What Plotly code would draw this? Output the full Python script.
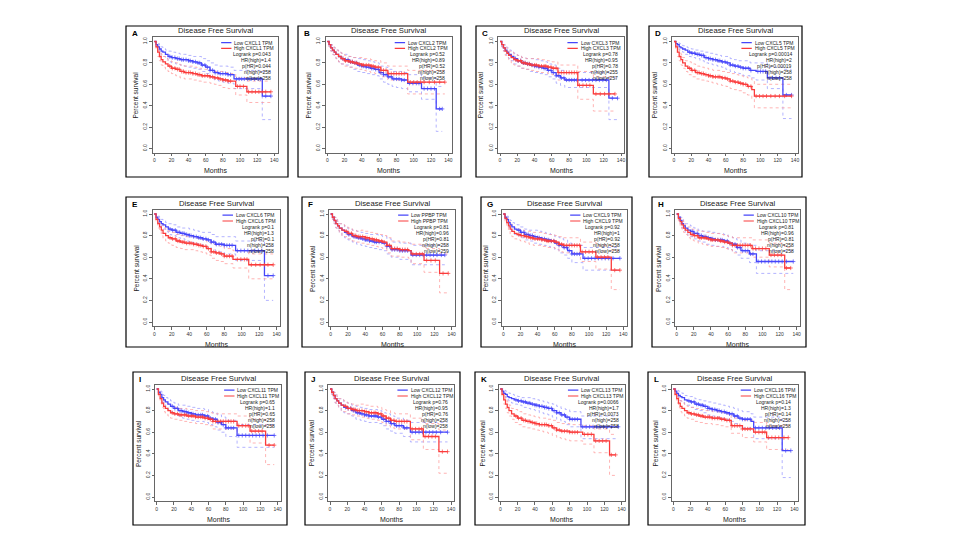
import plotly.graph_objects as go

# The page body has an 8 px default margin, so the figure is sized to fit
# inside the 960x540 window and screen coordinates are offset by 8 px.
SCREEN_W, SCREEN_H = 960, 540
OFF = 8
W, H = SCREEN_W - 2 * OFF, SCREEN_H - 2 * OFF
FONT = "Liberation Sans, Arial, sans-serif"

# ---------------- data ----------------
PANEL_LABELS = ["A", "B", "C", "D", "E", "F", "G", "H", "I", "J", "K", "L"]
GENES = ["CXCL1", "CXCL2", "CXCL3", "CXCL5", "CXCL6", "PPBP",
         "CXCL9", "CXCL10", "CXCL11", "CXCL12", "CXCL13", "CXCL16"]
LOGRANK_P = ["0.043", "0.52", "0.78", "0.00014", "0.1", "0.81",
             "0.92", "0.81", "0.65", "0.76", "0.0066", "0.14"]
HR_HIGH = ["1.4", "0.89", "0.95", "2", "1.3", "0.96",
           "1", "0.96", "1.1", "0.95", "1.7", "1.3"]
P_HR = ["0.044", "0.52", "0.78", "0.00019", "0.1", "0.81",
        "0.92", "0.81", "0.65", "0.76", "0.0073", "0.14"]
N_HIGH = [258, 258, 255, 258, 258, 258, 258, 258, 258, 258, 258, 258]
N_LOW = [258, 258, 257, 258, 258, 259, 258, 258, 258, 258, 258, 258]

X_TICKS = [0, 20, 40, 60, 80, 100, 120, 140]
Y_TICKS = [0.0, 0.2, 0.4, 0.6, 0.8, 1.0]
Y_TICKTEXT = ["0.0", "0.2", "0.4", "0.6", "0.8", "1.0"]

# Low-expression group: step times (months), survival, upper / lower 95% CI
LOW_T = [
    [0, 2, 4, 6, 8, 10, 13, 16, 20, 25, 30, 35, 40, 45, 50, 55, 60, 65, 70, 75, 80, 86, 93, 126, 136],
    [0, 2, 4, 6, 8, 10, 13, 16, 20, 25, 30, 35, 40, 45, 50, 55, 60, 65, 70, 75, 80, 86, 93, 109, 126, 133],
    [0, 2, 4, 6, 8, 10, 13, 16, 20, 25, 30, 35, 40, 45, 50, 55, 60, 65, 70, 75, 126, 136],
    [0, 2, 4, 6, 8, 10, 13, 16, 20, 25, 30, 35, 40, 45, 50, 55, 60, 65, 70, 75, 80, 88, 95, 108, 126, 136],
    [0, 2, 4, 6, 8, 10, 13, 16, 20, 25, 30, 35, 40, 45, 50, 55, 60, 65, 70, 80, 93, 126, 136],
    [0, 2, 4, 6, 8, 10, 13, 16, 20, 25, 30, 35, 40, 45, 50, 55, 60, 65, 70, 80, 93, 132],
    [0, 2, 4, 6, 8, 10, 13, 16, 20, 25, 30, 35, 40, 45, 50, 55, 60, 65, 70, 75, 80, 93, 136],
    [0, 2, 4, 6, 8, 10, 13, 16, 20, 25, 30, 35, 40, 45, 50, 55, 60, 65, 70, 75, 85, 93, 136],
    [0, 2, 4, 6, 8, 10, 13, 16, 20, 25, 30, 35, 40, 45, 50, 55, 60, 65, 70, 75, 80, 93, 136],
    [0, 2, 4, 6, 8, 10, 13, 16, 20, 25, 30, 35, 40, 45, 50, 55, 60, 65, 70, 75, 85, 93, 136],
    [0, 2, 4, 6, 8, 10, 13, 16, 20, 25, 30, 35, 40, 45, 50, 55, 60, 65, 70, 75, 80, 93, 136],
    [0, 2, 4, 6, 8, 10, 13, 16, 20, 25, 30, 35, 40, 45, 50, 55, 60, 65, 70, 75, 80, 90, 93, 126, 136],
]
LOW_S = [
    [1.0, 0.97, 0.95, 0.93, 0.91, 0.90, 0.88, 0.86, 0.85, 0.84, 0.83, 0.83, 0.82, 0.81, 0.80, 0.78, 0.76, 0.73, 0.71, 0.70, 0.70, 0.69, 0.65, 0.49, 0.49],
    [1.0, 0.97, 0.94, 0.92, 0.90, 0.88, 0.86, 0.84, 0.83, 0.81, 0.80, 0.78, 0.77, 0.76, 0.75, 0.74, 0.71, 0.69, 0.67, 0.65, 0.65, 0.64, 0.61, 0.56, 0.37, 0.37],
    [1.0, 0.97, 0.94, 0.92, 0.90, 0.88, 0.86, 0.84, 0.82, 0.80, 0.79, 0.78, 0.77, 0.76, 0.75, 0.73, 0.71, 0.68, 0.66, 0.64, 0.47, 0.47],
    [1.0, 0.98, 0.97, 0.95, 0.94, 0.93, 0.92, 0.90, 0.89, 0.88, 0.87, 0.85, 0.84, 0.83, 0.82, 0.81, 0.80, 0.78, 0.77, 0.76, 0.75, 0.73, 0.72, 0.66, 0.50, 0.50],
    [1.0, 0.97, 0.95, 0.93, 0.91, 0.90, 0.88, 0.86, 0.85, 0.83, 0.82, 0.81, 0.80, 0.79, 0.78, 0.77, 0.76, 0.74, 0.72, 0.71, 0.66, 0.43, 0.43],
    [1.0, 0.97, 0.94, 0.91, 0.89, 0.87, 0.85, 0.83, 0.81, 0.79, 0.78, 0.77, 0.76, 0.75, 0.74, 0.74, 0.73, 0.70, 0.67, 0.66, 0.62, 0.62],
    [1.0, 0.97, 0.95, 0.92, 0.90, 0.88, 0.86, 0.85, 0.83, 0.81, 0.80, 0.79, 0.78, 0.77, 0.76, 0.75, 0.73, 0.71, 0.69, 0.66, 0.63, 0.59, 0.59],
    [1.0, 0.97, 0.94, 0.91, 0.89, 0.87, 0.85, 0.84, 0.82, 0.80, 0.79, 0.78, 0.77, 0.76, 0.76, 0.75, 0.73, 0.72, 0.69, 0.66, 0.63, 0.56, 0.56],
    [1.0, 0.97, 0.95, 0.92, 0.90, 0.88, 0.86, 0.84, 0.82, 0.80, 0.79, 0.78, 0.77, 0.76, 0.76, 0.75, 0.73, 0.72, 0.69, 0.67, 0.64, 0.57, 0.57],
    [1.0, 0.97, 0.94, 0.91, 0.89, 0.87, 0.85, 0.83, 0.82, 0.80, 0.78, 0.77, 0.76, 0.75, 0.75, 0.74, 0.72, 0.70, 0.68, 0.66, 0.64, 0.60, 0.60],
    [1.0, 0.98, 0.96, 0.95, 0.93, 0.92, 0.91, 0.90, 0.89, 0.88, 0.87, 0.86, 0.85, 0.84, 0.83, 0.82, 0.80, 0.78, 0.76, 0.74, 0.72, 0.65, 0.65],
    [1.0, 0.98, 0.96, 0.94, 0.93, 0.92, 0.90, 0.89, 0.88, 0.86, 0.85, 0.84, 0.82, 0.81, 0.80, 0.79, 0.78, 0.77, 0.75, 0.73, 0.72, 0.70, 0.64, 0.43, 0.43],
]
LOW_U = [
    [1.0, 0.99, 0.98, 0.96, 0.95, 0.94, 0.92, 0.91, 0.90, 0.89, 0.88, 0.88, 0.87, 0.86, 0.86, 0.84, 0.82, 0.80, 0.78, 0.77, 0.77, 0.76, 0.73, 0.72, 0.72],
    [1.0, 0.99, 0.97, 0.96, 0.94, 0.92, 0.90, 0.89, 0.88, 0.86, 0.85, 0.84, 0.83, 0.82, 0.81, 0.80, 0.77, 0.76, 0.74, 0.72, 0.72, 0.71, 0.69, 0.66, 0.58, 0.58],
    [1.0, 0.99, 0.97, 0.96, 0.94, 0.92, 0.90, 0.89, 0.87, 0.85, 0.84, 0.84, 0.83, 0.82, 0.81, 0.79, 0.78, 0.75, 0.73, 0.71, 0.66, 0.66],
    [1.0, 1.0, 0.99, 0.98, 0.97, 0.96, 0.95, 0.94, 0.93, 0.92, 0.91, 0.90, 0.89, 0.88, 0.87, 0.86, 0.86, 0.84, 0.83, 0.82, 0.82, 0.80, 0.80, 0.76, 0.74, 0.74],
    [1.0, 0.99, 0.98, 0.96, 0.95, 0.94, 0.92, 0.91, 0.90, 0.88, 0.87, 0.87, 0.86, 0.85, 0.84, 0.83, 0.83, 0.81, 0.79, 0.79, 0.75, 0.70, 0.70],
    [1.0, 0.99, 0.97, 0.95, 0.93, 0.91, 0.90, 0.88, 0.86, 0.85, 0.84, 0.83, 0.82, 0.81, 0.81, 0.80, 0.79, 0.77, 0.74, 0.73, 0.71, 0.71],
    [1.0, 0.99, 0.98, 0.96, 0.94, 0.92, 0.91, 0.90, 0.88, 0.86, 0.85, 0.85, 0.84, 0.83, 0.82, 0.81, 0.79, 0.78, 0.76, 0.73, 0.71, 0.69, 0.69],
    [1.0, 0.99, 0.97, 0.95, 0.93, 0.91, 0.90, 0.89, 0.87, 0.85, 0.84, 0.84, 0.83, 0.82, 0.82, 0.81, 0.79, 0.78, 0.76, 0.73, 0.71, 0.66, 0.66],
    [1.0, 0.99, 0.98, 0.96, 0.94, 0.92, 0.91, 0.89, 0.87, 0.85, 0.85, 0.84, 0.83, 0.82, 0.82, 0.81, 0.79, 0.78, 0.76, 0.74, 0.71, 0.67, 0.67],
    [1.0, 0.99, 0.97, 0.95, 0.93, 0.91, 0.90, 0.88, 0.87, 0.85, 0.84, 0.83, 0.82, 0.81, 0.81, 0.80, 0.78, 0.77, 0.75, 0.73, 0.71, 0.69, 0.69],
    [1.0, 1.0, 0.99, 0.98, 0.97, 0.96, 0.95, 0.94, 0.93, 0.92, 0.92, 0.91, 0.90, 0.89, 0.88, 0.87, 0.86, 0.84, 0.82, 0.81, 0.79, 0.75, 0.75],
    [1.0, 1.0, 0.99, 0.98, 0.97, 0.96, 0.94, 0.93, 0.93, 0.91, 0.90, 0.89, 0.88, 0.87, 0.86, 0.85, 0.84, 0.83, 0.82, 0.80, 0.79, 0.77, 0.74, 0.70, 0.70],
]
LOW_L = [
    [1.0, 0.95, 0.92, 0.90, 0.87, 0.86, 0.84, 0.81, 0.80, 0.79, 0.78, 0.77, 0.76, 0.75, 0.74, 0.72, 0.70, 0.67, 0.64, 0.63, 0.62, 0.61, 0.56, 0.27, 0.27],
    [1.0, 0.95, 0.91, 0.88, 0.86, 0.84, 0.81, 0.79, 0.78, 0.76, 0.74, 0.72, 0.71, 0.70, 0.69, 0.68, 0.65, 0.62, 0.60, 0.58, 0.57, 0.56, 0.53, 0.46, 0.16, 0.16],
    [1.0, 0.95, 0.91, 0.88, 0.86, 0.84, 0.82, 0.79, 0.77, 0.75, 0.74, 0.72, 0.71, 0.70, 0.69, 0.67, 0.65, 0.61, 0.59, 0.57, 0.27, 0.27],
    [1.0, 0.96, 0.95, 0.92, 0.91, 0.90, 0.88, 0.86, 0.85, 0.84, 0.82, 0.80, 0.79, 0.78, 0.77, 0.76, 0.74, 0.72, 0.71, 0.70, 0.68, 0.66, 0.64, 0.56, 0.28, 0.28],
    [1.0, 0.95, 0.92, 0.90, 0.87, 0.86, 0.84, 0.81, 0.80, 0.78, 0.77, 0.75, 0.74, 0.73, 0.72, 0.71, 0.69, 0.67, 0.65, 0.63, 0.57, 0.20, 0.20],
    [1.0, 0.95, 0.91, 0.87, 0.85, 0.83, 0.80, 0.78, 0.76, 0.74, 0.72, 0.71, 0.70, 0.69, 0.68, 0.67, 0.66, 0.63, 0.60, 0.58, 0.53, 0.53],
    [1.0, 0.95, 0.92, 0.88, 0.86, 0.84, 0.81, 0.80, 0.78, 0.76, 0.75, 0.73, 0.72, 0.71, 0.70, 0.69, 0.67, 0.64, 0.62, 0.59, 0.55, 0.48, 0.48],
    [1.0, 0.95, 0.91, 0.87, 0.85, 0.83, 0.80, 0.79, 0.77, 0.75, 0.74, 0.72, 0.71, 0.70, 0.70, 0.69, 0.67, 0.65, 0.62, 0.59, 0.55, 0.45, 0.45],
    [1.0, 0.95, 0.92, 0.88, 0.86, 0.84, 0.81, 0.79, 0.77, 0.75, 0.73, 0.72, 0.71, 0.70, 0.70, 0.69, 0.67, 0.65, 0.62, 0.60, 0.56, 0.46, 0.46],
    [1.0, 0.95, 0.91, 0.87, 0.85, 0.83, 0.80, 0.78, 0.77, 0.75, 0.72, 0.71, 0.70, 0.69, 0.69, 0.68, 0.66, 0.63, 0.61, 0.59, 0.56, 0.51, 0.51],
    [1.0, 0.96, 0.93, 0.92, 0.90, 0.88, 0.87, 0.86, 0.85, 0.83, 0.82, 0.81, 0.80, 0.78, 0.77, 0.76, 0.74, 0.72, 0.70, 0.67, 0.65, 0.54, 0.54],
    [1.0, 0.96, 0.93, 0.91, 0.89, 0.88, 0.86, 0.85, 0.83, 0.81, 0.80, 0.78, 0.76, 0.75, 0.74, 0.73, 0.72, 0.70, 0.68, 0.66, 0.64, 0.62, 0.54, 0.18, 0.18],
]

# High-expression group
HIGH_T = [
    [0, 2, 4, 6, 8, 10, 13, 16, 20, 25, 30, 35, 40, 45, 50, 55, 60, 65, 70, 75, 80, 86, 95, 108, 136],
    [0, 2, 4, 6, 8, 10, 13, 16, 20, 25, 30, 35, 40, 45, 50, 55, 62, 70, 93, 136],
    [0, 2, 4, 6, 8, 10, 13, 16, 20, 25, 30, 35, 40, 45, 50, 55, 60, 67, 90, 108, 133],
    [0, 2, 4, 6, 8, 10, 13, 16, 20, 25, 30, 35, 40, 45, 50, 55, 60, 65, 70, 75, 80, 85, 90, 93, 136],
    [0, 2, 4, 6, 8, 10, 13, 16, 20, 25, 30, 35, 40, 45, 50, 55, 60, 65, 70, 75, 80, 90, 108, 136],
    [0, 2, 4, 6, 8, 10, 13, 16, 20, 25, 30, 35, 40, 45, 50, 55, 60, 65, 70, 80, 90, 93, 108, 126, 136],
    [0, 2, 4, 6, 8, 10, 13, 16, 20, 25, 30, 35, 40, 45, 50, 55, 60, 65, 70, 90, 108, 126, 136],
    [0, 2, 4, 6, 8, 10, 13, 16, 20, 25, 30, 35, 40, 45, 50, 55, 60, 65, 88, 108, 126, 133],
    [0, 2, 4, 6, 8, 10, 13, 16, 20, 25, 30, 35, 40, 45, 50, 55, 60, 65, 75, 93, 108, 126, 136],
    [0, 2, 4, 6, 8, 10, 13, 16, 20, 25, 30, 35, 40, 45, 50, 55, 60, 65, 70, 75, 93, 108, 126, 136],
    [0, 2, 4, 6, 8, 10, 13, 16, 20, 25, 30, 35, 40, 45, 50, 55, 60, 65, 70, 75, 80, 95, 108, 126, 133],
    [0, 2, 4, 6, 8, 10, 13, 16, 20, 25, 30, 35, 40, 45, 50, 55, 60, 67, 80, 93, 108, 133],
]
HIGH_S = [
    [1.0, 0.95, 0.90, 0.86, 0.83, 0.81, 0.79, 0.77, 0.75, 0.74, 0.72, 0.71, 0.71, 0.70, 0.69, 0.68, 0.68, 0.67, 0.66, 0.65, 0.64, 0.63, 0.58, 0.53, 0.53],
    [1.0, 0.97, 0.94, 0.92, 0.90, 0.88, 0.86, 0.84, 0.82, 0.81, 0.80, 0.79, 0.78, 0.78, 0.77, 0.76, 0.73, 0.70, 0.62, 0.62],
    [1.0, 0.97, 0.94, 0.91, 0.89, 0.87, 0.85, 0.83, 0.82, 0.80, 0.79, 0.78, 0.78, 0.77, 0.77, 0.76, 0.75, 0.71, 0.59, 0.51, 0.51],
    [1.0, 0.95, 0.90, 0.86, 0.83, 0.80, 0.77, 0.75, 0.73, 0.71, 0.70, 0.69, 0.68, 0.67, 0.67, 0.66, 0.65, 0.63, 0.62, 0.61, 0.60, 0.58, 0.55, 0.49, 0.49],
    [1.0, 0.95, 0.91, 0.88, 0.85, 0.82, 0.80, 0.78, 0.77, 0.75, 0.74, 0.73, 0.73, 0.72, 0.71, 0.70, 0.68, 0.65, 0.64, 0.63, 0.61, 0.58, 0.53, 0.53],
    [1.0, 0.97, 0.94, 0.91, 0.89, 0.87, 0.85, 0.84, 0.82, 0.80, 0.79, 0.79, 0.78, 0.77, 0.76, 0.75, 0.74, 0.71, 0.68, 0.67, 0.66, 0.63, 0.57, 0.45, 0.45],
    [1.0, 0.96, 0.92, 0.89, 0.86, 0.84, 0.82, 0.81, 0.80, 0.79, 0.78, 0.77, 0.77, 0.76, 0.75, 0.75, 0.74, 0.72, 0.71, 0.65, 0.60, 0.48, 0.48],
    [1.0, 0.96, 0.93, 0.90, 0.87, 0.85, 0.83, 0.81, 0.80, 0.78, 0.78, 0.77, 0.76, 0.76, 0.75, 0.74, 0.73, 0.71, 0.68, 0.62, 0.50, 0.50],
    [1.0, 0.95, 0.91, 0.87, 0.84, 0.82, 0.80, 0.78, 0.77, 0.76, 0.76, 0.75, 0.75, 0.74, 0.74, 0.73, 0.72, 0.70, 0.70, 0.66, 0.61, 0.48, 0.48],
    [1.0, 0.97, 0.94, 0.91, 0.89, 0.87, 0.85, 0.84, 0.82, 0.81, 0.80, 0.80, 0.79, 0.78, 0.78, 0.77, 0.75, 0.73, 0.71, 0.70, 0.63, 0.56, 0.42, 0.42],
    [1.0, 0.95, 0.90, 0.86, 0.83, 0.80, 0.77, 0.75, 0.73, 0.71, 0.70, 0.69, 0.68, 0.67, 0.67, 0.66, 0.64, 0.62, 0.61, 0.61, 0.60, 0.58, 0.52, 0.39, 0.39],
    [1.0, 0.95, 0.91, 0.87, 0.84, 0.82, 0.80, 0.78, 0.77, 0.76, 0.75, 0.74, 0.74, 0.73, 0.73, 0.72, 0.71, 0.66, 0.63, 0.60, 0.55, 0.55],
]
HIGH_U = [
    [1.0, 0.98, 0.94, 0.91, 0.88, 0.86, 0.84, 0.82, 0.81, 0.80, 0.78, 0.77, 0.77, 0.76, 0.75, 0.74, 0.74, 0.73, 0.72, 0.72, 0.71, 0.70, 0.66, 0.63, 0.63],
    [1.0, 0.99, 0.97, 0.96, 0.94, 0.92, 0.90, 0.89, 0.87, 0.86, 0.85, 0.85, 0.84, 0.84, 0.83, 0.82, 0.80, 0.77, 0.73, 0.73],
    [1.0, 0.99, 0.97, 0.95, 0.93, 0.91, 0.90, 0.88, 0.87, 0.85, 0.84, 0.84, 0.84, 0.83, 0.83, 0.82, 0.81, 0.78, 0.72, 0.67, 0.67],
    [1.0, 0.98, 0.94, 0.91, 0.88, 0.85, 0.82, 0.81, 0.79, 0.77, 0.76, 0.75, 0.74, 0.73, 0.73, 0.72, 0.71, 0.70, 0.69, 0.68, 0.67, 0.66, 0.64, 0.60, 0.60],
    [1.0, 0.98, 0.95, 0.92, 0.90, 0.87, 0.85, 0.84, 0.83, 0.81, 0.80, 0.79, 0.79, 0.78, 0.77, 0.76, 0.74, 0.72, 0.71, 0.70, 0.68, 0.66, 0.63, 0.63],
    [1.0, 0.99, 0.97, 0.95, 0.93, 0.91, 0.90, 0.89, 0.87, 0.85, 0.84, 0.85, 0.84, 0.83, 0.82, 0.81, 0.80, 0.78, 0.75, 0.74, 0.73, 0.72, 0.68, 0.63, 0.63],
    [1.0, 0.99, 0.96, 0.93, 0.91, 0.89, 0.87, 0.86, 0.85, 0.84, 0.84, 0.83, 0.83, 0.82, 0.81, 0.81, 0.80, 0.79, 0.78, 0.74, 0.71, 0.66, 0.66],
    [1.0, 0.99, 0.96, 0.94, 0.91, 0.89, 0.88, 0.86, 0.85, 0.84, 0.84, 0.83, 0.82, 0.82, 0.81, 0.80, 0.79, 0.78, 0.76, 0.73, 0.69, 0.69],
    [1.0, 0.98, 0.95, 0.92, 0.89, 0.87, 0.85, 0.84, 0.83, 0.82, 0.82, 0.81, 0.81, 0.80, 0.80, 0.79, 0.78, 0.77, 0.77, 0.75, 0.72, 0.66, 0.66],
    [1.0, 0.99, 0.97, 0.95, 0.93, 0.91, 0.90, 0.89, 0.87, 0.86, 0.85, 0.86, 0.85, 0.84, 0.84, 0.83, 0.81, 0.80, 0.78, 0.77, 0.73, 0.68, 0.62, 0.62],
    [1.0, 0.98, 0.94, 0.91, 0.88, 0.85, 0.82, 0.81, 0.79, 0.77, 0.76, 0.75, 0.74, 0.73, 0.73, 0.72, 0.71, 0.69, 0.68, 0.68, 0.67, 0.66, 0.63, 0.58, 0.58],
    [1.0, 0.98, 0.95, 0.92, 0.89, 0.87, 0.85, 0.84, 0.83, 0.82, 0.81, 0.80, 0.80, 0.79, 0.79, 0.78, 0.77, 0.73, 0.71, 0.69, 0.66, 0.66],
]
HIGH_L = [
    [1.0, 0.92, 0.86, 0.82, 0.78, 0.76, 0.74, 0.72, 0.70, 0.68, 0.66, 0.65, 0.65, 0.64, 0.63, 0.62, 0.62, 0.61, 0.60, 0.59, 0.57, 0.56, 0.50, 0.43, 0.43],
    [1.0, 0.95, 0.91, 0.88, 0.86, 0.84, 0.81, 0.79, 0.77, 0.76, 0.75, 0.74, 0.73, 0.72, 0.71, 0.70, 0.67, 0.64, 0.51, 0.51],
    [1.0, 0.95, 0.91, 0.87, 0.85, 0.83, 0.80, 0.78, 0.77, 0.75, 0.74, 0.73, 0.72, 0.71, 0.71, 0.70, 0.69, 0.64, 0.46, 0.35, 0.35],
    [1.0, 0.92, 0.86, 0.82, 0.78, 0.75, 0.72, 0.69, 0.67, 0.65, 0.64, 0.63, 0.62, 0.61, 0.60, 0.59, 0.58, 0.56, 0.55, 0.54, 0.52, 0.50, 0.46, 0.38, 0.38],
    [1.0, 0.92, 0.87, 0.84, 0.80, 0.77, 0.75, 0.73, 0.71, 0.69, 0.68, 0.67, 0.67, 0.66, 0.65, 0.64, 0.62, 0.59, 0.57, 0.56, 0.54, 0.50, 0.40, 0.40],
    [1.0, 0.95, 0.91, 0.87, 0.85, 0.83, 0.80, 0.79, 0.77, 0.75, 0.74, 0.73, 0.72, 0.71, 0.70, 0.69, 0.68, 0.64, 0.61, 0.60, 0.59, 0.54, 0.46, 0.27, 0.27],
    [1.0, 0.93, 0.88, 0.85, 0.81, 0.79, 0.77, 0.76, 0.75, 0.74, 0.72, 0.71, 0.71, 0.70, 0.69, 0.69, 0.68, 0.65, 0.64, 0.56, 0.49, 0.30, 0.30],
    [1.0, 0.93, 0.89, 0.86, 0.83, 0.81, 0.78, 0.76, 0.75, 0.73, 0.72, 0.71, 0.70, 0.70, 0.69, 0.68, 0.67, 0.64, 0.60, 0.51, 0.30, 0.30],
    [1.0, 0.92, 0.87, 0.83, 0.79, 0.77, 0.75, 0.73, 0.72, 0.71, 0.70, 0.69, 0.69, 0.68, 0.68, 0.67, 0.66, 0.63, 0.63, 0.57, 0.50, 0.30, 0.30],
    [1.0, 0.95, 0.91, 0.87, 0.85, 0.83, 0.80, 0.79, 0.77, 0.76, 0.75, 0.74, 0.73, 0.72, 0.72, 0.71, 0.69, 0.66, 0.64, 0.63, 0.53, 0.44, 0.22, 0.22],
    [1.0, 0.92, 0.86, 0.82, 0.78, 0.75, 0.72, 0.69, 0.67, 0.65, 0.64, 0.63, 0.62, 0.61, 0.60, 0.59, 0.57, 0.55, 0.54, 0.53, 0.52, 0.49, 0.41, 0.20, 0.20],
    [1.0, 0.92, 0.87, 0.83, 0.79, 0.77, 0.75, 0.73, 0.72, 0.70, 0.69, 0.68, 0.68, 0.67, 0.67, 0.66, 0.65, 0.59, 0.55, 0.51, 0.44, 0.44],
]

# censoring times (months) shown as "+" marks
CENSOR_MID = [18, 21, 24, 27, 29, 32, 34, 37, 40, 42, 45, 48, 51, 53, 56,
              59, 62, 65, 68, 71, 74, 77, 80, 83, 86, 89]
LOW_CENS_TAIL = [
    [96, 99, 102, 105, 109, 113, 117, 121, 124, 130, 136],
    [95, 99, 103, 106, 112, 116, 120, 124, 130, 133],
    [95, 99, 103, 107, 111, 115, 119, 123, 130, 136],
    [97, 100, 103, 106, 110, 114, 118, 122, 130, 136],
    [95, 99, 103, 107, 111, 115, 119, 123, 130, 136],
    [95, 99, 103, 107, 111, 115, 119, 123, 128, 132],
    [95, 99, 103, 107, 111, 115, 119, 123, 128, 136],
    [95, 99, 103, 107, 111, 115, 119, 123, 128, 136],
    [95, 99, 103, 107, 111, 115, 119, 123, 128, 136],
    [95, 99, 103, 107, 111, 115, 119, 123, 128, 136],
    [95, 99, 103, 107, 111, 115, 119, 123, 128, 136],
    [95, 99, 103, 107, 111, 115, 119, 123, 130, 136],
]
HIGH_CENS_TAIL = [
    [97, 100, 104, 110, 114, 118, 122, 126, 130, 136],
    [96, 100, 104, 108, 112, 118, 124, 130, 136],
    [92, 96, 100, 104, 111, 116, 121, 126, 133],
    [95, 99, 103, 107, 112, 117, 122, 128, 136],
    [95, 99, 103, 106, 111, 116, 121, 126, 130, 136],
    [95, 99, 103, 106, 111, 116, 121, 130, 136],
    [92, 96, 100, 104, 110, 114, 118, 122, 130, 136],
    [92, 96, 100, 104, 110, 114, 118, 122, 128, 133],
    [95, 99, 103, 106, 110, 114, 118, 122, 130, 136],
    [95, 99, 103, 106, 110, 114, 118, 122, 130, 136],
    [97, 101, 105, 110, 114, 118, 122, 128, 133],
    [95, 99, 103, 106, 110, 114, 118, 122, 128, 133],
]

# ---------------- layout constants (screen pixels) ----------------
FRAMES = [(126, 26, 288, 177), (298, 26, 461, 177), (476, 26, 627, 177), (649, 26, 802, 177),
          (126, 197, 288, 347), (302, 197, 462, 347), (481, 197, 632, 347), (652, 197, 806, 347),
          (133, 372, 287, 525), (305, 372, 460, 525), (475, 372, 629, 525), (648, 372, 805, 525)]
XCAL = [(154.3, 274.3), (327.3, 448.3), (500, 621), (674, 795),
        (154.3, 276.7), (330.7, 451.7), (503.3, 623.3), (676.7, 796.7),
        (156.7, 277.7), (330, 451), (500.3, 621.7), (673.3, 794.3)]
YCAL_ROW = [(41.5, 148.5), (214, 322), (389, 497)]
X_RANGE = [-2, 144]
Y_RANGE = [-0.04, 1.04]

BLUE = "rgb(70,70,250)"
RED = "rgb(250,60,60)"
BLUE_CI = "rgba(150,150,255,0.9)"
RED_CI = "rgba(255,150,150,0.9)"
AXCOL = "#666666"
TXT = "#222222"


def px(x):
    return (x - OFF) / W


def py(y):
    return 1 - (y - OFF) / H


def step_value(ts, ss, t):
    v = ss[0]
    for tk, sk in zip(ts, ss):
        if tk <= t:
            v = sk
        else:
            break
    return v


fig = go.Figure()
shapes = []
annotations = []
layout = dict(width=W, height=H, margin=dict(l=0, r=0, t=0, b=0),
              paper_bgcolor="white", plot_bgcolor="white", showlegend=False,
              font=dict(family=FONT, color=TXT))

LEG_ROWS = [0.99, 0.935, 0.88, 0.825, 0.77, 0.715, 0.66]

for i in range(12):
    n = i + 1
    xref = "x" if n == 1 else f"x{n}"
    yref = "y" if n == 1 else f"y{n}"
    xkey = "xaxis" if n == 1 else f"xaxis{n}"
    ykey = "yaxis" if n == 1 else f"yaxis{n}"

    x0p, x140p = XCAL[i]
    ppm = (x140p - x0p) / 140.0
    y1p, y0p = YCAL_ROW[i // 4]
    ppu = y0p - y1p
    left = x0p + X_RANGE[0] * ppm
    right = x0p + X_RANGE[1] * ppm
    top = y0p - Y_RANGE[1] * ppu
    bottom = y0p - Y_RANGE[0] * ppu

    layout[xkey] = dict(domain=[px(left), px(right)], anchor=yref, range=X_RANGE,
                        tickvals=X_TICKS, ticks="outside", ticklen=2.5, tickwidth=0.6,
                        tickcolor=AXCOL, tickfont=dict(size=5, color="#333"),
                        showline=True, mirror=True, linecolor=AXCOL, linewidth=0.7,
                        showgrid=False, zeroline=False, fixedrange=True)
    layout[ykey] = dict(domain=[py(bottom), py(top)], anchor=xref, range=Y_RANGE,
                        tickvals=Y_TICKS, ticktext=Y_TICKTEXT, tickangle=-90,
                        ticks="outside", ticklen=2.5, tickwidth=0.6, tickcolor=AXCOL,
                        tickfont=dict(size=5, color="#333"),
                        showline=True, mirror=True, linecolor=AXCOL, linewidth=0.7,
                        showgrid=False, zeroline=False, fixedrange=True)

    groups = [
        (LOW_T[i], LOW_S[i], LOW_U[i], LOW_L[i], LOW_CENS_TAIL[i], BLUE, BLUE_CI),
        (HIGH_T[i], HIGH_S[i], HIGH_U[i], HIGH_L[i], HIGH_CENS_TAIL[i], RED, RED_CI),
    ]
    for ts, ss, us, ls, tail, col, cicol in groups:
        for band in (us, ls):
            fig.add_trace(go.Scatter(x=ts, y=band, mode="lines", line_shape="hv",
                                     line=dict(color=cicol, width=0.8, dash="dot"),
                                     xaxis=xref, yaxis=yref, hoverinfo="skip"))
    for ts, ss, us, ls, tail, col, cicol in groups:
        fig.add_trace(go.Scatter(x=ts, y=ss, mode="lines", line_shape="hv",
                                 line=dict(color=col, width=1.3),
                                 xaxis=xref, yaxis=yref))
        ct = [t for t in CENSOR_MID + tail if t <= ts[-1]]
        cs = [step_value(ts, ss, t) for t in ct]
        fig.add_trace(go.Scatter(x=ct, y=cs, mode="markers",
                                 marker=dict(symbol="cross-thin", size=3,
                                             line=dict(color=col, width=0.7)),
                                 xaxis=xref, yaxis=yref))

    fx0, fy0, fx1, fy1 = FRAMES[i]
    shapes.append(dict(type="rect", xref="paper", yref="paper",
                       x0=px(fx0), x1=px(fx1), y0=py(fy0), y1=py(fy1),
                       line=dict(color="black", width=1.2), layer="above"))

    cx = (left + right) / 2
    annotations.append(dict(text="<b>" + PANEL_LABELS[i] + "</b>", xref="paper", yref="paper",
                            x=px(fx0 + 4), y=py(fy0 + 7), xanchor="left", yanchor="middle",
                            showarrow=False, font=dict(size=8, color="black")))
    annotations.append(dict(text="Disease Free Survival", xref="paper", yref="paper",
                            x=px(cx), y=py(top - 6.5), xanchor="center", yanchor="middle",
                            showarrow=False, font=dict(size=7.7, color=TXT)))
    annotations.append(dict(text="Months", xref="paper", yref="paper",
                            x=px(cx), y=py(bottom + 18), xanchor="center", yanchor="middle",
                            showarrow=False, font=dict(size=7, color=TXT)))
    annotations.append(dict(text="Percent survival", xref="paper", yref="paper",
                            x=px(left - 17), y=py((top + bottom) / 2),
                            xanchor="center", yanchor="middle", textangle=-90,
                            showarrow=False, font=dict(size=6.5, color=TXT)))

    leg_left = [f"Low {GENES[i]} TPM", f"High {GENES[i]} TPM"]
    for k, (txt, col) in enumerate(zip(leg_left, [BLUE, RED])):
        shapes.append(dict(type="line", xref=xref, yref=yref, x0=78, x1=90,
                           y0=LEG_ROWS[k], y1=LEG_ROWS[k], line=dict(color=col, width=1.2)))
        annotations.append(dict(text=txt, xref=xref, yref=yref, x=91, y=LEG_ROWS[k],
                                xanchor="left", yanchor="middle", showarrow=False,
                                font=dict(size=5, color=TXT)))
    stats = [f"Logrank p={LOGRANK_P[i]}", f"HR(high)={HR_HIGH[i]}", f"p(HR)={P_HR[i]}",
             f"n(high)={N_HIGH[i]}", f"n(low)={N_LOW[i]}"]
    for k, txt in enumerate(stats):
        annotations.append(dict(text=txt, xref=xref, yref=yref, x=139, y=LEG_ROWS[k + 2],
                                xanchor="right", yanchor="middle", showarrow=False,
                                font=dict(size=5, color=TXT)))

layout["shapes"] = shapes
layout["annotations"] = annotations
fig.update_layout(**layout)
fig.write_html("out.html")
